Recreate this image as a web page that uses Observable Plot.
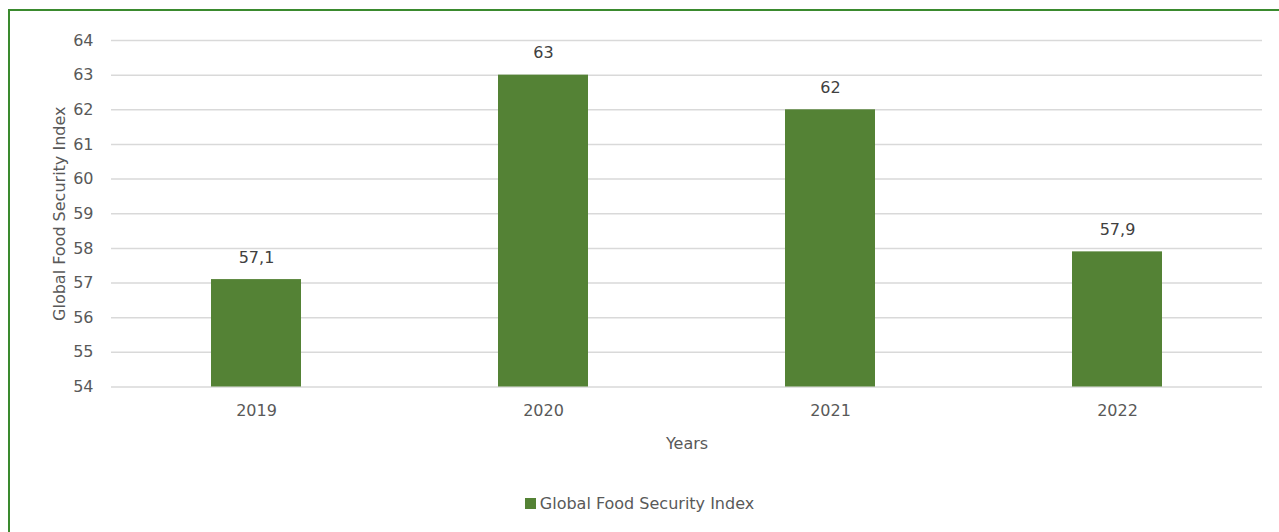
<!DOCTYPE html>
<html>
<head>
<meta charset="utf-8">
<script src="https://cdn.jsdelivr.net/npm/d3@7"></script>
<script src="https://cdn.jsdelivr.net/npm/@observablehq/plot@0.6"></script>
<style>
  html, body { margin: 0; padding: 0; background: #fff; overflow: hidden; }
  #frame { position: absolute; left: 8px; top: 9px; width: 1290px; height: 560px; border: 2px solid #3a8a2e; box-sizing: border-box; }
  #chart { position: absolute; left: 0; top: 0; }
  #legend { position: absolute; left: 0; top: 494px; width: 1279px; text-align: center; font-family: "DejaVu Sans", Verdana, sans-serif; font-size: 16px; color: #595959; line-height: 20px; }
  #legend .sw { display: inline-block; width: 11px; height: 11px; background: #548235; margin-right: 4px; vertical-align: 0px; }
</style>
</head>
<body>
<div id="frame"></div>
<div id="chart"></div>
<div id="legend"><span class="sw"></span>Global Food Security Index</div>
<script>
const years = ["2019", "2020", "2021", "2022"];
const values = [57.1, 63, 62, 57.9];
const yTicks = [54, 55, 56, 57, 58, 59, 60, 61, 62, 63, 64];
const seriesName = "Global Food Security Index";

const data = years.map((y, i) => ({year: y, value: values[i]}));
const fmt = v => String(v).replace(".", ",");
const font = "DejaVu Sans, Verdana, sans-serif";

const chart = Plot.plot({
  width: 1279,
  height: 470,
  marginTop: 40,
  marginBottom: 83.5,
  marginLeft: 111,
  marginRight: 17,
  style: {fontFamily: font, fontSize: "16px", color: "#595959", background: "transparent"},
  x: {domain: years, paddingInner: 0.687, paddingOuter: 0.3435, label: null},
  y: {domain: [54, 64], label: null},
  marks: [
    Plot.gridY(yTicks, {stroke: "#d9d9d9", strokeOpacity: 1, strokeWidth: 1.5}),
    Plot.barY(data, {x: "year", y1: 54, y2: "value", fill: "#548235"}),
    Plot.text(data, {x: "year", y: "value", text: d => fmt(d.value), dy: -22, fill: "#404040", fontSize: 16}),
    Plot.axisY(yTicks, {tickSize: 0, tickPadding: 18, fill: "#595959", fontSize: 16, label: seriesName, labelAnchor: "center", labelArrow: "none", labelOffset: 58}),
    Plot.axisX({tickSize: 0, tickPadding: 18, fill: "#595959", fontSize: 16, label: "Years", labelAnchor: "center", labelArrow: "none", labelOffset: 62})
  ]
});
document.getElementById("chart").appendChild(chart);
</script>
</body>
</html>
